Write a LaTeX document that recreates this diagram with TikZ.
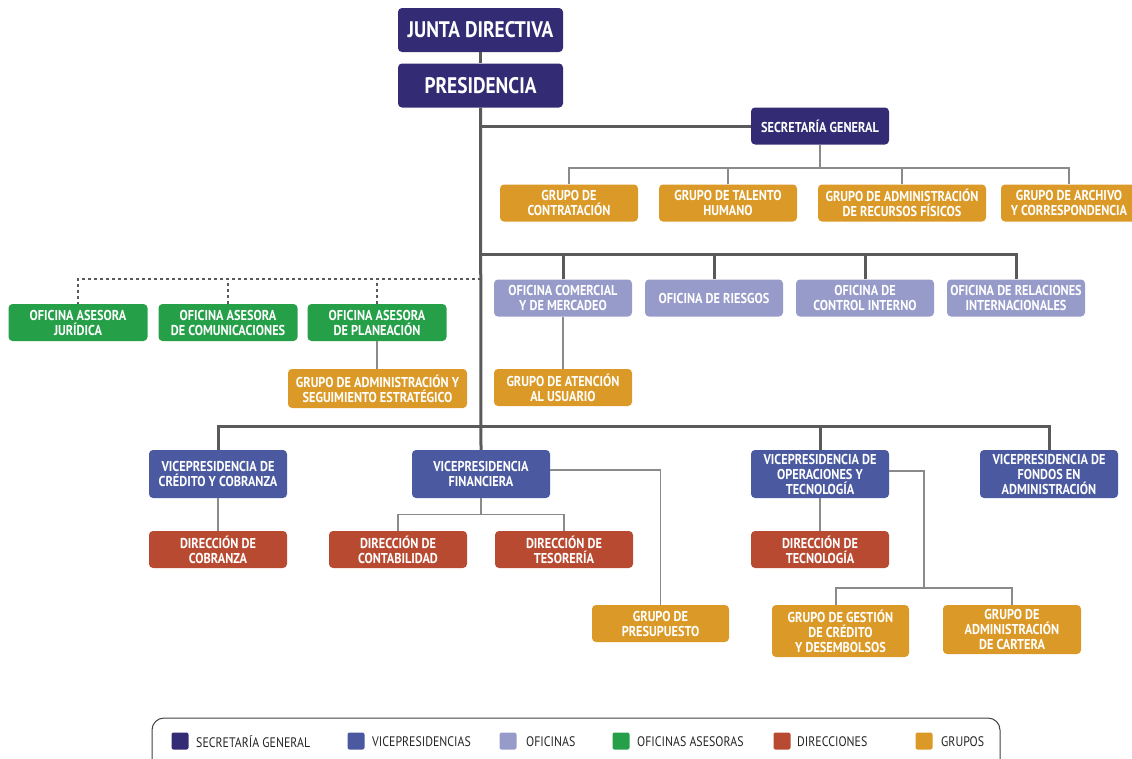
\documentclass[tikz,border=0pt]{standalone}
\usepackage{fontspec}
\setmainfont{PT Sans}[FakeStretch=0.86]
\definecolor{csec}{HTML}{332C74}
\definecolor{cvp}{HTML}{4A59A0}
\definecolor{cofi}{HTML}{979BC9}
\definecolor{cases}{HTML}{25A049}
\definecolor{cdir}{HTML}{B94A32}
\definecolor{cgrp}{HTML}{DB9A27}
\definecolor{cmain}{HTML}{5A5A5A}
\definecolor{cthin}{HTML}{8A8A8A}
\begin{document}
\begin{tikzpicture}[x=1pt,y=-1pt,
  box/.style={rounded corners=4pt, inner sep=0pt, align=center, text=white,
     font=\bfseries\fontsize{14.3}{15}\selectfont, minimum width=138pt, minimum height=37pt},
  big/.style={box, fill=csec, font=\bfseries\fontsize{22.5}{24}\selectfont, minimum width=165pt, minimum height=44pt},
  secb/.style={box, fill=csec},
  vpb/.style={box, fill=cvp, minimum height=48pt},
  ofib/.style={box, fill=cofi},
  aseb/.style={box, fill=cases},
  dirb/.style={box, fill=cdir},
  grpb/.style={box, fill=cgrp},
  mainline/.style={draw=cmain, line width=3pt},
  thinline/.style={draw=cthin, line width=1.6pt},
  dotline/.style={draw=cmain, line width=2.6pt, dash pattern=on 3pt off 3pt},
  legsq/.style={rounded corners=2pt, minimum width=17pt, minimum height=17pt, inner sep=0pt},
  legtx/.style={anchor=west, text=black!85, font=\fontsize{13.8}{15}\selectfont, inner sep=0pt}
]
\useasboundingbox (0,0) rectangle (1132,758);

% top
\node[big] (jd) at (480.5,30) {JUNTA DIRECTIVA};
\node[big] (pres) at (480.5,85.5) {PRESIDENCIA};
\node[secb] (sec) at (820,126) {SECRETARÍA GENERAL};

% secretaria groups
\node[grpb] (g1) at (569,203) {GRUPO DE\\CONTRATACIÓN};
\node[grpb] (g2) at (728,203) {GRUPO DE TALENTO\\HUMANO};
\node[grpb, minimum width=168pt] (g3) at (902,203) {GRUPO DE ADMINISTRACIÓN\\DE RECURSOS FÍSICOS};
\node[grpb, minimum width=136pt] (g4) at (1069,203) {GRUPO DE ARCHIVO\\Y CORRESPONDENCIA};

% oficinas
\node[ofib] (o1) at (563,298) {OFICINA COMERCIAL\\Y DE MERCADEO};
\node[ofib] (o2) at (714,298) {OFICINA DE RIESGOS};
\node[ofib] (o3) at (865,298) {OFICINA DE\\CONTROL INTERNO};
\node[ofib] (o4) at (1016,298) {OFICINA DE RELACIONES\\INTERNACIONALES};
\node[grpb] (ga) at (563,387.5) {GRUPO DE ATENCIÓN\\AL USUARIO};

% asesoras
\node[aseb, minimum width=139pt] (a1) at (78,322.5) {OFICINA ASESORA\\JURÍDICA};
\node[aseb, minimum width=139pt] (a2) at (228,322.5) {OFICINA ASESORA\\DE COMUNICACIONES};
\node[aseb, minimum width=139pt] (a3) at (377,322.5) {OFICINA ASESORA\\DE PLANEACIÓN};
\node[grpb, minimum width=179pt, minimum height=39pt] (gp) at (377.5,388.5) {GRUPO DE ADMINISTRACIÓN Y\\SEGUIMIENTO ESTRATÉGICO};

% vicepresidencias
\node[vpb] (v1) at (218,474) {VICEPRESIDENCIA DE\\CRÉDITO Y COBRANZA};
\node[vpb] (v2) at (481,474) {VICEPRESIDENCIA\\FINANCIERA};
\node[vpb] (v3) at (820,474) {VICEPRESIDENCIA DE\\OPERACIONES Y\\TECNOLOGÍA};
\node[vpb] (v4) at (1049,474) {VICEPRESIDENCIA DE\\FONDOS EN\\ADMINISTRACIÓN};

% direcciones
\node[dirb] (d1) at (218,549.5) {DIRECCIÓN DE\\COBRANZA};
\node[dirb] (d2) at (398,549.5) {DIRECCIÓN DE\\CONTABILIDAD};
\node[dirb] (d3) at (564,549.5) {DIRECCIÓN DE\\TESORERÍA};
\node[dirb] (d4) at (820,549.5) {DIRECCIÓN DE\\TECNOLOGÍA};

% grupos bottom
\node[grpb, minimum width=137pt] (gpre) at (660.5,623.5) {GRUPO DE\\PRESUPUESTO};
\node[grpb, minimum width=137pt, minimum height=52pt] (ggc) at (840.5,631) {GRUPO DE GESTIÓN\\DE CRÉDITO\\Y DESEMBOLSOS};
\node[grpb, minimum width=138pt, minimum height=49pt] (gcar) at (1012,629.5) {GRUPO DE\\ADMINISTRACIÓN\\DE CARTERA};

% coordinates for bars
\coordinate (sb) at (820,168);
\coordinate (ob) at (481,254.5);
\coordinate (vb) at (481,426);
\coordinate (db) at (481,279);
\coordinate (fb) at (481,514.5);
\coordinate (fr) at (660,470);
\coordinate (opr) at (924,471);
\coordinate (opb) at (924,588);

% main lines
\draw[mainline] (jd.south) -- (pres.north);
\draw[mainline] (pres.south) -- (v2.north);
\draw[mainline] (sec.west) -- (sec.west -| pres.south);
\draw[mainline] (ob) -| (o4.north);
\draw[mainline] (o1.north) -- (o1.north |- ob);
\draw[mainline] (o2.north) -- (o2.north |- ob);
\draw[mainline] (o3.north) -- (o3.north |- ob);
\draw[mainline] (v1.north) |- (vb) -| (v4.north);
\draw[mainline] (v3.north) -- (v3.north |- vb);

% dotted asesoras
\draw[dotline] (db) -| (a1.north);
\draw[dotline] (a2.north) -- (a2.north |- db);
\draw[dotline] (a3.north) -- (a3.north |- db);

% thin lines
\draw[thinline] (sec.south) -- (sb);
\draw[thinline] (g1.north) |- (sb) -| (g4.north);
\draw[thinline] (g2.north) -- (g2.north |- sb);
\draw[thinline] (g3.north) -- (g3.north |- sb);
\draw[thinline] (o1.south) -- (ga.north);
\draw[thinline] (a3.south) -- (a3.south |- gp.north);
\draw[thinline] (v1.south) -- (d1.north);
\draw[thinline] (v2.south) -- (fb);
\draw[thinline] (d2.north) |- (fb) -| (d3.north);
\draw[thinline] (v2.east |- fr) -| (gpre.north);
\draw[thinline] (v3.south) -- (d4.north);
\draw[thinline] (v3.east |- opr) -- (opr) -- (opb);
\draw[thinline] (ggc.north -| 836,0) |- (opb) -| (gcar.north);

% legend
\draw[line width=1pt, draw=black!75, rounded corners=12pt] (152,764) -- (152,718) -- (1000,718) -- (1000,764);
\node[legsq, fill=csec] (l1) at (180,741) {};
\node[legtx] (t1) at (196,741.5) {SECRETARÍA GENERAL};
\node[legsq, fill=cvp] (l2) at (356,741) {};
\node[legtx] (t2) at (372,741.5) {VICEPRESIDENCIAS};
\node[legsq, fill=cofi] (l3) at (508,741) {};
\node[legtx] (t3) at (526,741.5) {OFICINAS};
\node[legsq, fill=cases] (l4) at (621,741) {};
\node[legtx] (t4) at (637,741.5) {OFICINAS ASESORAS};
\node[legsq, fill=cdir] (l5) at (782,741) {};
\node[legtx] (t5) at (797,741.5) {DIRECCIONES};
\node[legsq, fill=cgrp] (l6) at (924,741) {};
\node[legtx] (t6) at (941,741.5) {GRUPOS};
\end{tikzpicture}
\end{document}
